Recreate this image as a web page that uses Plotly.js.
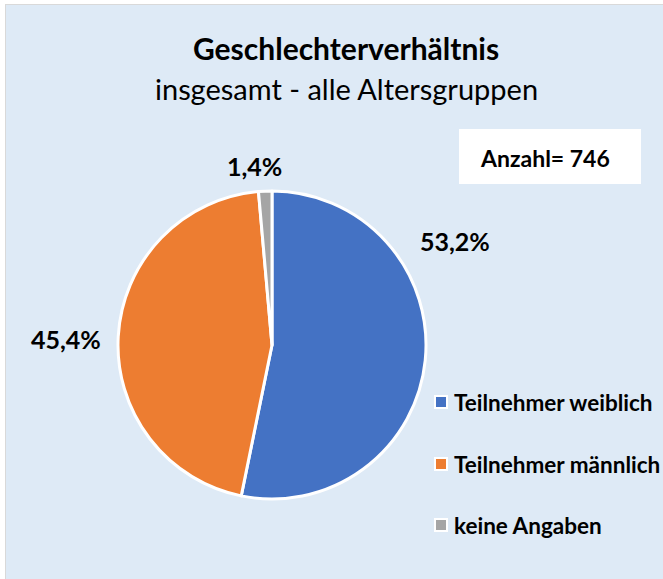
<!DOCTYPE html>
<html>
<head>
<meta charset="utf-8">
<script src="https://cdn.plot.ly/plotly-3.0.1.min.js"></script>
<style>
html,body{margin:0;padding:0;background:#ffffff;width:663px;height:579px;overflow:hidden;}
#chart{position:absolute;left:5px;top:4px;width:658px;height:575px;border-left:1px solid #D9D9D9;border-top:1px solid #D9D9D9;box-sizing:border-box;}
</style>
</head>
<body>
<div id="chart"></div>
<script>
var labels = ["Teilnehmer weiblich", "Teilnehmer männlich", "keine Angaben"];
var values = [53.2, 45.4, 1.4];
var colors = ["#4472C4", "#ED7D31", "#A5A5A5"];
var titleText = "Geschlechterverhältnis";
var subtitleText = "insgesamt - alle Altersgruppen";
var countText = "Anzahl= 746";

var W = 658, H = 575;
var FONT = "Lato, 'Open Sans', sans-serif";
function px(x){ return x / W; }
function py(y){ return 1 - y / H; }
function fmt(v){ return v.toFixed(1).replace('.', ',') + '%'; }

// label positions (pixel, in chart div coords)
var labelPos = [[449, 236], [60, 334], [248, 161]];
var legendRows = [397, 459, 520];

var annotations = [
  {text: '<b>' + titleText + '</b>', x: px(340), y: py(43), xref: 'paper', yref: 'paper', showarrow: false,
   font: {family: FONT, size: 30, color: '#000'}, xanchor: 'center', yanchor: 'middle'},
  {text: subtitleText, x: px(341), y: py(84), xref: 'paper', yref: 'paper', showarrow: false,
   font: {family: FONT, size: 29, color: '#000'}, xanchor: 'center', yanchor: 'middle'},
  {text: '<b>' + countText + '</b>', x: px(539), y: py(153), xref: 'paper', yref: 'paper', showarrow: false,
   font: {family: FONT, size: 23, color: '#000'}, xanchor: 'center', yanchor: 'middle'}
];
var shapes = [
  {type: 'rect', xref: 'paper', yref: 'paper', x0: px(453), x1: px(635), y0: py(124), y1: py(179),
   fillcolor: '#FFFFFF', line: {width: 0}, layer: 'below'}
];
for (var i = 0; i < values.length; i++) {
  annotations.push({text: '<b>' + fmt(values[i]) + '</b>', x: px(labelPos[i][0]), y: py(labelPos[i][1]),
    xref: 'paper', yref: 'paper', showarrow: false, font: {family: FONT, size: 25, color: '#000'},
    xanchor: 'center', yanchor: 'middle'});
  annotations.push({text: '<b>' + labels[i] + '</b>', x: px(446), y: py(legendRows[i]),
    xref: 'paper', yref: 'paper', showarrow: false, font: {family: FONT, size: 22.5, color: '#000'},
    xanchor: 'left', yanchor: 'middle'});
  shapes.push({type: 'rect', xref: 'paper', yref: 'paper', x0: px(429), x1: px(441),
    y0: py(legendRows[i] - 6), y1: py(legendRows[i] + 6), fillcolor: colors[i],
    line: {color: '#FFFFFF', width: 2}});
}

var trace = {
  type: 'pie', labels: labels, values: values, sort: false, direction: 'clockwise', rotation: 0,
  marker: {colors: colors, line: {color: '#FFFFFF', width: 3}},
  textinfo: 'none', hoverinfo: 'label+percent', showlegend: false,
  domain: {x: [px(266 - 154), px(266 + 154)], y: [py(494), py(186)]}
};

var layout = {
  width: W, height: H, margin: {l: 0, r: 0, t: 0, b: 0},
  paper_bgcolor: '#DEEAF6', plot_bgcolor: '#DEEAF6',
  showlegend: false, annotations: annotations, shapes: shapes,
  font: {family: FONT}
};
Plotly.newPlot('chart', [trace], layout, {displayModeBar: false, staticPlot: true});
</script>
</body>
</html>
